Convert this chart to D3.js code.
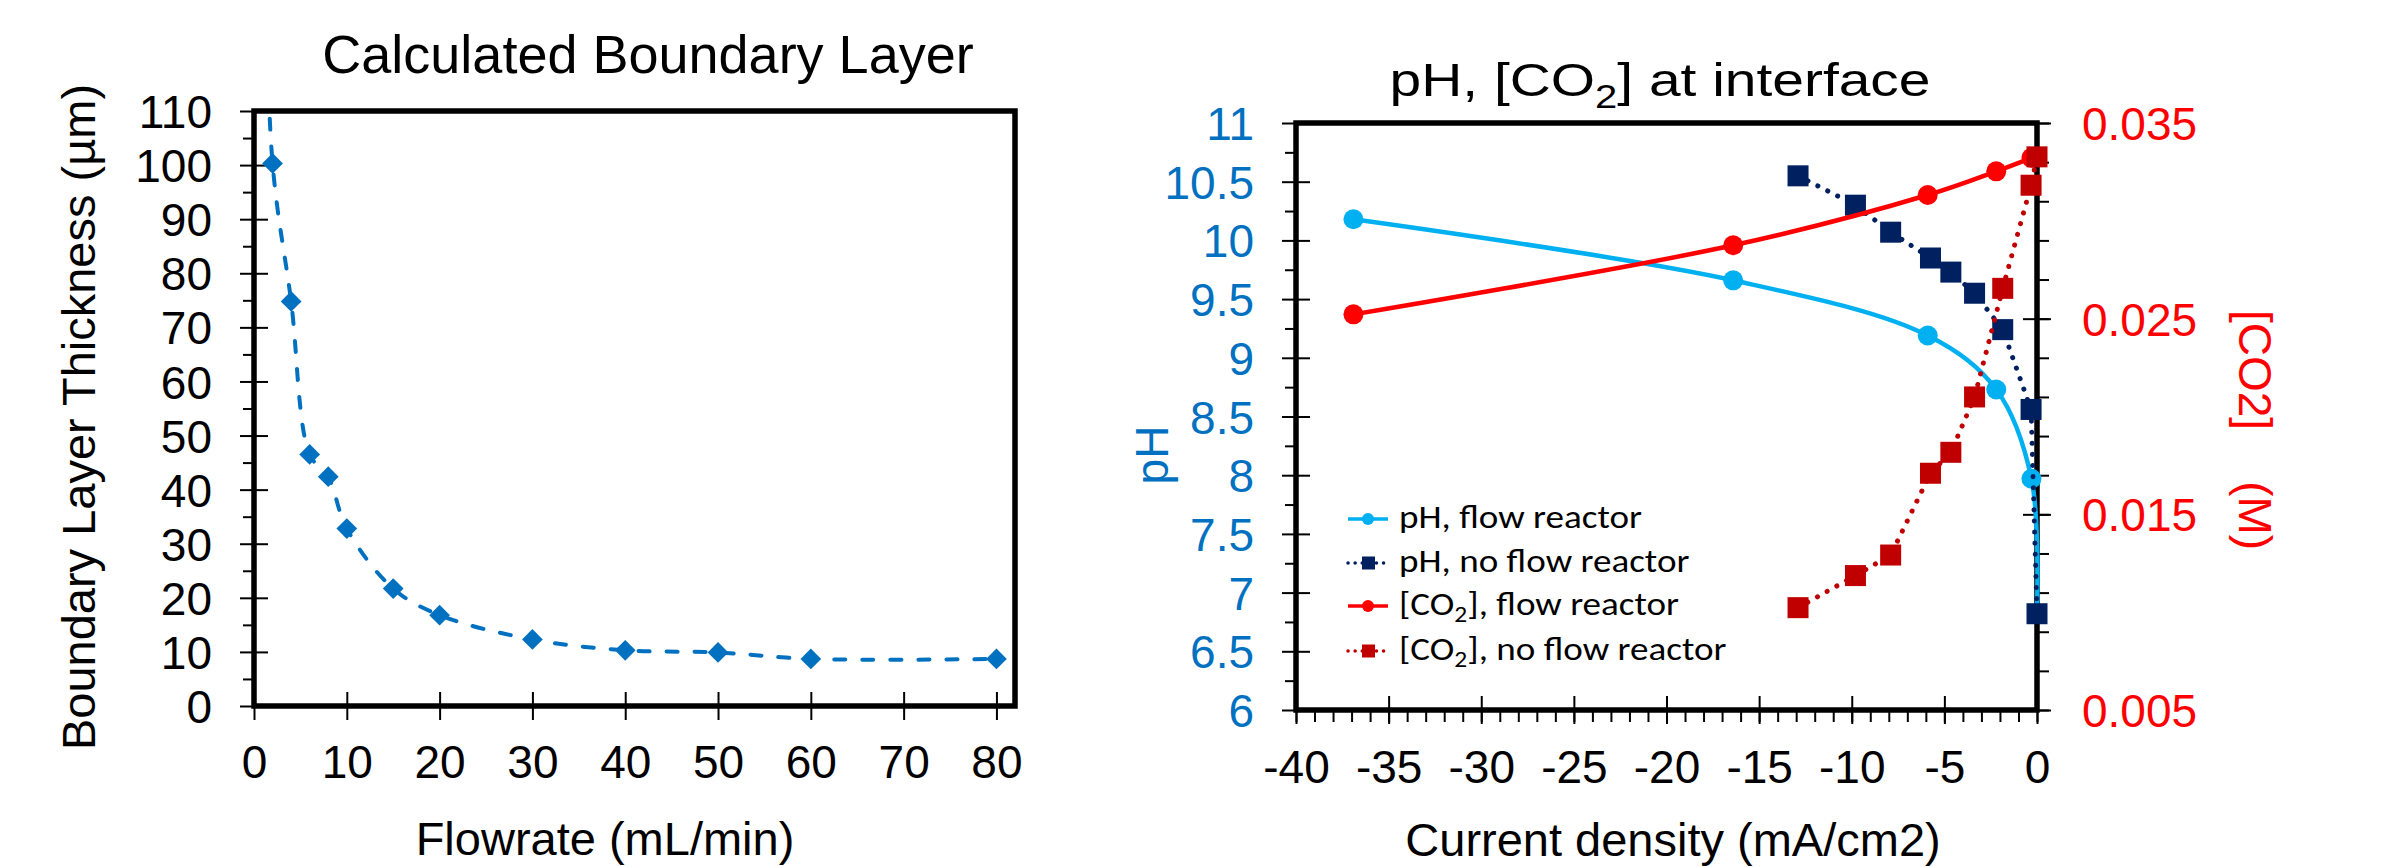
<!DOCTYPE html>
<html>
<head>
<meta charset="utf-8">
<script src="https://cdn.jsdelivr.net/npm/d3@7"></script>
<style>
  body { margin: 0; background: #fff; }
  svg { display: block; }
</style>
</head>
<body>
<svg id="chart" width="2386" height="867"></svg>
<script>
// ---------------- DATA ----------------
// Left chart: Calculated Boundary Layer
const flowrate  = [1, 2, 4, 6, 8, 10, 15, 20, 30, 40, 50, 60, 80];          // mL/min (first point lies above the axis range)
const thickness = [150, 100.3, 74.8, 46.5, 42.4, 32.8, 21.7, 16.8, 12.3, 10.3, 9.9, 8.7, 8.7]; // µm
const flowTicks = [0, 10, 20, 30, 40, 50, 60, 70, 80];
const flowAxisMax = 82;
const thicknessTicks = [0, 10, 20, 30, 40, 50, 60, 70, 80, 90, 100, 110];
const thicknessMinor = [5, 15, 25, 35, 45, 55, 65, 75, 85, 95, 105];

// Right chart: pH, [CO2] at interface
const currentFlow     = [-36.9, -16.4, -5.9, -2.2, -0.3, 0];
const phFlow          = [10.18, 9.66, 9.19, 8.73, 7.97, 6.85];
const currentFlowCO2  = [-36.9, -16.4, -5.9, -2.2, -0.3];
const co2Flow         = [0.02522, 0.02875, 0.03132, 0.03253, 0.03322];
const currentNoFlow   = [-12.9, -9.8, -7.9, -5.75, -4.65, -3.37, -1.85, -0.32, 0];
const phNoFlow        = [10.55, 10.30, 10.07, 9.85, 9.73, 9.55, 9.24, 8.56, 6.82];
const co2NoFlow       = [0.01023, 0.01187, 0.01292, 0.01710, 0.01817, 0.02100, 0.02655, 0.03182, 0.03327];

const currentTicks = [-40, -35, -30, -25, -20, -15, -10, -5, 0];
const currentMinor = d3.range(-40, 1, 1);
const phTicks  = [6, 6.5, 7, 7.5, 8, 8.5, 9, 9.5, 10, 10.5, 11];
const phMinor  = [6.25, 6.75, 7.25, 7.75, 8.25, 8.75, 9.25, 9.75, 10.25, 10.75];
const co2Ticks = [0.005, 0.015, 0.025, 0.035];
const co2Minor = [0.005, 0.007, 0.009, 0.011, 0.013, 0.015, 0.017, 0.019, 0.021, 0.023, 0.025, 0.027, 0.029, 0.031, 0.033, 0.035];

const legendLabels = ["pH, flow reactor", "pH, no flow reactor", "[CO2], flow reactor", "[CO2], no flow reactor"];

// ---------------- STYLE ----------------
const FONT = '"Liberation Sans", Arial, Helvetica, sans-serif';
const LEGEND_FONT = 'Carlito, Lato, "Open Sans", sans-serif';
const C_LEFT = '#0070C0';
const C_PH_FLOW = '#00B0F0';
const C_PH_NOFLOW = '#002060';
const C_CO2_FLOW = '#FF0000';
const C_CO2_NOFLOW = '#C00000';

const svg = d3.select('#chart');

function cleanAxis(g) {
  g.select('.domain').remove();
  g.attr('font-family', null).attr('font-size', null);
  g.selectAll('.tick line').attr('stroke', '#000').attr('stroke-width', 2);
  g.selectAll('.tick text').attr('font-family', FONT).attr('font-size', 46);
}

// ================= LEFT CHART =================
const L = { left: 254, right: 1015, top: 111, bottom: 706 };
const xL = d3.scaleLinear().domain([0, flowAxisMax]).range([L.left, L.right]);
const yL = d3.scaleLinear().domain([0, 110]).range([L.bottom, L.top]);
const gLeft = svg.append('g');

// minor y ticks (outside)
gLeft.append('g').attr('transform', `translate(${L.left},0)`)
  .call(d3.axisLeft(yL).tickValues(thicknessMinor).tickSize(11).tickFormat(''))
  .call(cleanAxis);
// major y ticks (crossing) + labels
gLeft.append('g').attr('transform', `translate(${L.left},0)`)
  .call(d3.axisLeft(yL).tickValues(thicknessTicks).tickSize(14).tickFormat(d => String(d)))
  .call(cleanAxis)
  .call(g => {
    g.selectAll('.tick line').attr('x1', 14).attr('x2', -14);
    g.selectAll('.tick text').attr('x', -42).attr('dy', '0.36em').attr('fill', '#000');
  });
// x ticks (crossing) + labels
gLeft.append('g').attr('transform', `translate(0,${L.bottom})`)
  .call(d3.axisBottom(xL).tickValues(flowTicks).tickSize(14).tickFormat(d => String(d)))
  .call(cleanAxis)
  .call(g => {
    g.selectAll('.tick line').attr('y1', -14).attr('y2', 14);
    g.selectAll('.tick text').attr('y', 72).attr('dy', 0).attr('fill', '#000');
  });
// frame
gLeft.append('rect')
  .attr('x', L.left).attr('y', L.top)
  .attr('width', L.right - L.left).attr('height', L.bottom - L.top)
  .attr('fill', 'none').attr('stroke', '#000').attr('stroke-width', 5.5);

// series
svg.append('clipPath').attr('id', 'clipL').append('rect')
  .attr('x', L.left).attr('y', L.top)
  .attr('width', L.right - L.left + 12).attr('height', L.bottom - L.top);
const leftData = flowrate.map((f, i) => ({ x: f, y: thickness[i] }));
const gLS = gLeft.append('g').attr('clip-path', 'url(#clipL)');
gLS.append('path')
  .datum(leftData)
  .attr('d', d3.line().x(d => xL(d.x)).y(d => yL(d.y)).curve(d3.curveCatmullRom.alpha(0.5)))
  .attr('fill', 'none').attr('stroke', C_LEFT).attr('stroke-width', 4)
  .attr('stroke-dasharray', '11 17').attr('stroke-linecap', 'round');
gLS.selectAll('path.dia').data(leftData).join('path').attr('class', 'dia')
  .attr('d', d3.symbol(d3.symbolSquare, 215)())
  .attr('transform', d => `translate(${xL(d.x)},${yL(d.y)}) rotate(45)`)
  .attr('fill', C_LEFT);

// texts
gLeft.append('text').text('Calculated Boundary Layer')
  .attr('x', 648).attr('y', 73).attr('text-anchor', 'middle')
  .attr('font-family', FONT).attr('font-size', 54);
gLeft.append('text').text('Flowrate (mL/min)')
  .attr('x', 605).attr('y', 855).attr('text-anchor', 'middle')
  .attr('font-family', FONT).attr('font-size', 47);
gLeft.append('text').text('Boundary Layer Thickness (µm)')
  .attr('transform', 'translate(95,417) rotate(-90)').attr('text-anchor', 'middle')
  .attr('font-family', FONT).attr('font-size', 47);

// ================= RIGHT CHART =================
const R = { left: 1296, right: 2037, top: 123, bottom: 710 };
const xR = d3.scaleLinear().domain([-40, 0]).range([R.left, R.right]);
const yPH = d3.scaleLinear().domain([6, 11]).range([R.bottom, R.top]);
const yCO2 = d3.scaleLinear().domain([0.005, 0.035]).range([R.bottom, R.top]);
const gRight = svg.append('g');

// left pH axis
gRight.append('g').attr('transform', `translate(${R.left},0)`)
  .call(d3.axisLeft(yPH).tickValues(phMinor).tickSize(11).tickFormat(''))
  .call(cleanAxis);
gRight.append('g').attr('transform', `translate(${R.left},0)`)
  .call(d3.axisLeft(yPH).tickValues(phTicks).tickSize(14).tickFormat(d => String(d)))
  .call(cleanAxis)
  .call(g => {
    g.selectAll('.tick line').attr('x1', 14).attr('x2', -14);
    g.selectAll('.tick text').attr('x', -42).attr('dy', '0.36em').attr('fill', C_LEFT);
  });
// x axis
gRight.append('g').attr('transform', `translate(0,${R.bottom})`)
  .call(d3.axisBottom(xR).tickValues(currentMinor).tickSize(12).tickFormat(''))
  .call(cleanAxis);
gRight.append('g').attr('transform', `translate(0,${R.bottom})`)
  .call(d3.axisBottom(xR).tickValues(currentTicks).tickSize(14).tickFormat(d => String(d)))
  .call(cleanAxis)
  .call(g => {
    g.selectAll('.tick line').attr('y1', -14).attr('y2', 14);
    g.selectAll('.tick text').attr('y', 73).attr('dy', 0).attr('fill', '#000');
  });
// right CO2 axis
gRight.append('g').attr('transform', `translate(${R.right},0)`)
  .call(d3.axisRight(yCO2).tickValues(co2Minor).tickSize(12).tickFormat(''))
  .call(cleanAxis);
gRight.append('g').attr('transform', `translate(${R.right},0)`)
  .call(d3.axisRight(yCO2).tickValues(co2Ticks).tickSize(14).tickFormat(d3.format('.3f')))
  .call(cleanAxis)
  .call(g => {
    g.selectAll('.tick line').attr('x1', -14).attr('x2', 14);
    g.selectAll('.tick text').attr('x', 45).attr('dy', '0.36em').attr('fill', C_CO2_FLOW);
  });
// frame
gRight.append('rect')
  .attr('x', R.left).attr('y', R.top)
  .attr('width', R.right - R.left).attr('height', R.bottom - R.top)
  .attr('fill', 'none').attr('stroke', '#000').attr('stroke-width', 5.5);

// series
const smooth = d3.curveCatmullRom.alpha(0.5);
function drawSeries(xs, ys, yScale, color, dotted, marker, curve) {
  const data = xs.map((x, i) => ({ x, y: ys[i] }));
  const g = gRight.append('g');
  const p = g.append('path').datum(data)
    .attr('d', d3.line().x(d => xR(d.x)).y(d => yScale(d.y)).curve(curve))
    .attr('fill', 'none').attr('stroke', color);
  if (dotted) {
    p.attr('stroke-width', 5).attr('stroke-dasharray', '0.1 11').attr('stroke-linecap', 'round');
  } else {
    p.attr('stroke-width', 4.5);
  }
  if (marker === 'circle') {
    g.selectAll('circle').data(data).join('circle')
      .attr('cx', d => xR(d.x)).attr('cy', d => yScale(d.y)).attr('r', 10).attr('fill', color);
  } else {
    g.selectAll('rect').data(data).join('rect')
      .attr('x', d => xR(d.x) - 10.5).attr('y', d => yScale(d.y) - 10.5)
      .attr('width', 21).attr('height', 21).attr('fill', color);
  }
}
// pH flow (last point hidden under no-flow marker)
(function () {
  const data = currentFlow.map((x, i) => ({ x, y: phFlow[i] }));
  const g = gRight.append('g');
  g.append('path').datum(data)
    .attr('d', d3.line().x(d => xR(d.x)).y(d => yPH(d.y)).curve(smooth))
    .attr('fill', 'none').attr('stroke', C_PH_FLOW).attr('stroke-width', 4.5);
  g.selectAll('circle').data(data.slice(0, -1)).join('circle')
    .attr('cx', d => xR(d.x)).attr('cy', d => yPH(d.y)).attr('r', 10).attr('fill', C_PH_FLOW);
})();
drawSeries(currentNoFlow, phNoFlow, yPH, C_PH_NOFLOW, true, 'square', d3.curveLinear);
drawSeries(currentFlowCO2, co2Flow, yCO2, C_CO2_FLOW, false, 'circle', smooth);
drawSeries(currentNoFlow, co2NoFlow, yCO2, C_CO2_NOFLOW, true, 'square', d3.curveLinear);

// helper for CO2 subscript
function richText(sel, label, subSize, shift) {
  const parts = label.split('CO2');
  parts.forEach((part, i) => {
    if (i > 0) {
      sel.append('tspan').text('2').attr('font-size', subSize).attr('dy', shift);
      sel.append('tspan').text(part).attr('dy', -shift);
    } else {
      sel.append('tspan').text(part + (parts.length > 1 ? 'CO' : ''));
    }
  });
}
function fitWidth(textSel, target) {
  const w = textSel.node().getBBox().width;
  return w > 0 ? target / w : 1;
}

// Right title
const rt = gRight.append('text').attr('text-anchor', 'middle')
  .attr('font-family', FONT).attr('font-size', 47);
richText(rt, 'pH, [CO2] at interface', 33, 12);
const kT = fitWidth(rt, 541);
rt.attr('transform', `translate(1660,96) scale(${kT},1)`);

// axis titles
gRight.append('text').text('Current density (mA/cm2)')
  .attr('x', 1673).attr('y', 856).attr('text-anchor', 'middle')
  .attr('font-family', FONT).attr('font-size', 47);
gRight.append('text').text('pH')
  .attr('transform', 'translate(1168,455) rotate(-90)').attr('text-anchor', 'middle')
  .attr('font-family', FONT).attr('font-size', 46).attr('fill', C_LEFT);
gRight.append('text').text('[CO2]    (M)')
  .attr('transform', 'translate(2239,430) rotate(90)').attr('text-anchor', 'middle')
  .attr('font-family', FONT).attr('font-size', 46).attr('fill', C_CO2_FLOW)
  .style('white-space', 'pre');

// legend
const legRowY = [519, 563, 606, 651];
const legColors = [C_PH_FLOW, C_PH_NOFLOW, C_CO2_FLOW, C_CO2_NOFLOW];
const legDotted = [false, true, false, true];
const legMarker = ['circle', 'square', 'circle', 'square'];
const gLeg = gRight.append('g');
let kLeg = 1;
legendLabels.forEach((lab, i) => {
  const y = legRowY[i];
  const ln = gLeg.append('line').attr('x1', 1348).attr('x2', 1388).attr('y1', y).attr('y2', y)
    .attr('stroke', legColors[i]);
  if (legDotted[i]) ln.attr('stroke-width', 3.5).attr('stroke-dasharray', '0.1 7').attr('stroke-linecap', 'round');
  else ln.attr('stroke-width', 3.5);
  if (legMarker[i] === 'circle') {
    gLeg.append('circle').attr('cx', 1368).attr('cy', y).attr('r', 6).attr('fill', legColors[i]);
  } else {
    gLeg.append('rect').attr('x', 1362).attr('y', y - 6.5).attr('width', 13).attr('height', 13).attr('fill', legColors[i]);
  }
  const t = gLeg.append('text').attr('font-family', LEGEND_FONT).attr('font-size', 32).attr('fill', '#000');
  richText(t, lab, 22, 7);
  if (i === 0) kLeg = fitWidth(t, 243);
  t.attr('transform', `translate(1399,${y + 9}) scale(${kLeg},1)`);
});
</script>
</body>
</html>
